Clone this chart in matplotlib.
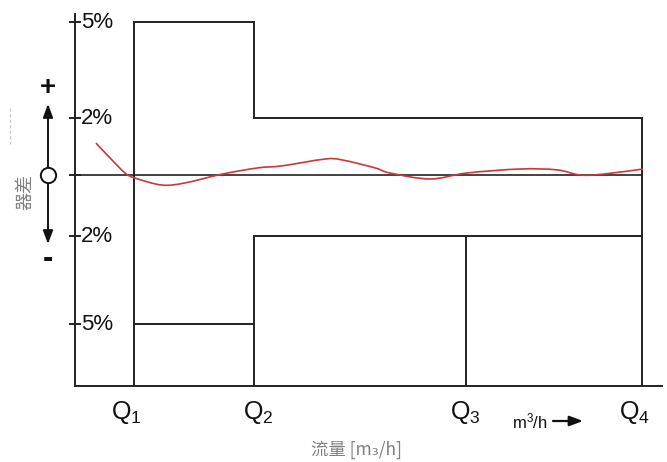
import numpy as np
import matplotlib.pyplot as plt
from matplotlib.path import Path
from matplotlib.patches import PathPatch

plt.rcParams['font.family'] = ['Liberation Sans', 'DejaVu Sans']
plt.rcParams['mathtext.fontset'] = 'custom'
plt.rcParams['mathtext.rm'] = 'Liberation Sans'
plt.rcParams['mathtext.it'] = 'Liberation Sans'

# flow positions of Q1..Q4 (arbitrary flow units along x)
q_names = ["Q$_1$", "Q$_2$", "Q$_3$", "Q$_4$"]
q_pos = [59, 179, 391, 567]
q_label_shift = [-8, 4, -1, -8]

# error limits in %
upper_outer = 5
upper_inner = 2
lower_inner = -2
lower_outer = -5

y_ticks = [5, 2, 0, -2, -5]
y_tick_labels = ["5%", "2%", "", "2%", "5%"]

err_x = [21, 35, 50, 60, 87, 110, 147, 183, 207, 250, 267, 300, 315, 355,
         392, 445, 482, 505, 528, 568]
err_y = [1.12, 0.60, 0.07, -0.10, -0.33, -0.26, 0.03, 0.25, 0.32, 0.56,
         0.53, 0.25, 0.07, -0.13, 0.07, 0.21, 0.18, 0.00, 0.03, 0.21]

line_col = "#222222"
lw = 1.4

# the % axis of the drawing is not evenly spaced: knots of % -> vertical units
knot_pct = [-9.0, -5.0, -2.0, 0.0, 2.0, 5.0, 8.0]
knot_pos = [-266.2, -149.0, -61.0, 0.0, 57.0, 153.0, 249.0]


def fwd(v):
    return np.interp(v, knot_pct, knot_pos)


def inv(v):
    return np.interp(v, knot_pos, knot_pct)


def smooth_path(xs, ys):
    # catmull-rom through the points, drawn as bezier segments
    pts = np.column_stack([xs, ys]).astype(float)
    verts = [pts[0]]
    codes = [Path.MOVETO]
    n = len(pts)
    for i in range(n - 1):
        p0 = pts[i - 1] if i > 0 else pts[i]
        p1 = pts[i]
        p2 = pts[i + 1]
        p3 = pts[i + 2] if i + 2 < n else pts[i + 1]
        c1 = p1 + (p2 - p0) / 6.0
        c2 = p2 - (p3 - p1) / 6.0
        verts += [c1, c2, p2]
        codes += [Path.CURVE4] * 3
    return Path(verts, codes)


fig = plt.figure(figsize=(6.67, 4.62), dpi=100)
ax = fig.add_axes([75 / 667, 76 / 462, 587 / 667, 372 / 462])
ax.set_yscale('function', functions=(fwd, inv))
ax.set_xlim(0, 587)
ax.set_ylim(inv(-211), inv(161))
bottom = ax.get_ylim()[0]

for s in ["top", "right"]:
    ax.spines[s].set_visible(False)
for s in ["left", "bottom"]:
    ax.spines[s].set_linewidth(lw)
    ax.spines[s].set_color(line_col)

ax.set_xticks([])
ax.set_yticks(y_ticks)
ax.set_yticklabels([])
ax.yaxis.set_minor_locator(plt.NullLocator())
ax.tick_params(axis='y', direction='inout', length=8, width=lw, color=line_col)

for t, lab in zip(y_ticks, y_tick_labels):
    ax.annotate(lab, xy=(0, t), xycoords=('axes fraction', 'data'),
                xytext=(4.5, 0), textcoords='offset points',
                ha='left', va='center', fontsize=16, color="#111111")

q1, q2, q3, q4 = q_pos
# upper limit
ax.plot([q1, q1, q2, q2, q4, q4],
        [bottom, upper_outer, upper_outer, upper_inner, upper_inner, bottom],
        color=line_col, lw=lw, solid_joinstyle='miter', clip_on=False)
# lower limits
ax.plot([q1, q2], [lower_outer, lower_outer], color=line_col, lw=lw)
ax.plot([q2, q2, q4], [bottom, lower_inner, lower_inner],
        color=line_col, lw=lw, solid_joinstyle='miter', clip_on=False)
ax.plot([q3, q3], [bottom, lower_inner], color=line_col, lw=lw, clip_on=False)
# zero line
ax.plot([0, q4], [0, 0], color=line_col, lw=1.2)

# error curve: build the path in display-like units so the bezier stays smooth
curve = smooth_path(err_x, fwd(np.array(err_y)))
curve_pts = curve.vertices.copy()
curve_pts[:, 1] = inv(curve_pts[:, 1])
ax.add_patch(PathPatch(Path(curve_pts, curve.codes), fill=False,
                       edgecolor="#c8383c", lw=1.2, zorder=3))

# Q labels
for name, x, dx in zip(q_names, q_pos, q_label_shift):
    ax.annotate(name, xy=(x, bottom), xytext=(dx * 0.72, -9),
                textcoords='offset points', ha='center', va='top',
                fontsize=18, color="#111111", annotation_clip=False)

unit_y = 1 - 421 / 462
fig.text(512 / 667, unit_y, "m$^3$/h", fontsize=12, ha='left',
         va='center', color="#111111")
ax.annotate("", xy=(583 / 667, unit_y), xytext=(553 / 667, unit_y),
            xycoords='figure fraction', textcoords='figure fraction',
            arrowprops=dict(arrowstyle='-|>,head_length=0.8,head_width=0.3',
                            color="#111111", lw=1.6, shrinkA=0, shrinkB=0),
            annotation_clip=False)

fig.text(357 / 667, 1 - 450 / 462, "流量 [m₃/h]", fontsize=12.5, color="#808080",
         ha='center', va='center', family=['Noto Sans CJK SC', 'DejaVu Sans'])


def fig_y(py):
    return 1 - py / 462


# left side sign indicator
sx = 48 / 667
fig.text(sx, fig_y(88), "+", fontsize=20, fontweight='bold', ha='center',
         va='center', color="#111111")
fig.text(sx, fig_y(259), "-", fontsize=22, fontweight='bold', ha='center',
         va='center', color="#111111")
for tip, start in [(104, 167), (244, 183)]:
    ax.annotate("", xy=(sx, fig_y(tip)), xytext=(sx, fig_y(start)),
                xycoords='figure fraction', textcoords='figure fraction',
                arrowprops=dict(arrowstyle='-|>,head_length=0.8,head_width=0.3',
                                color="#111111", lw=1.4, shrinkA=0, shrinkB=0),
                annotation_clip=False)
fig.add_artist(plt.Line2D([sx], [fig_y(175)], marker='o', markersize=11,
                          markerfacecolor='white', markeredgecolor="#111111",
                          markeredgewidth=1.4, zorder=5))

fig.text(25 / 667, fig_y(192), "器差", rotation=90, fontsize=13,
         color="#808080", ha='center', va='center',
         family=['Noto Sans CJK SC', 'DejaVu Sans'])
fig.add_artist(plt.Line2D([10 / 667, 10 / 667], [fig_y(108), fig_y(144)],
                          color="#c8c8c8", lw=0.8, ls=(0, (3, 2))))

fig.savefig("out.png", dpi=100)
